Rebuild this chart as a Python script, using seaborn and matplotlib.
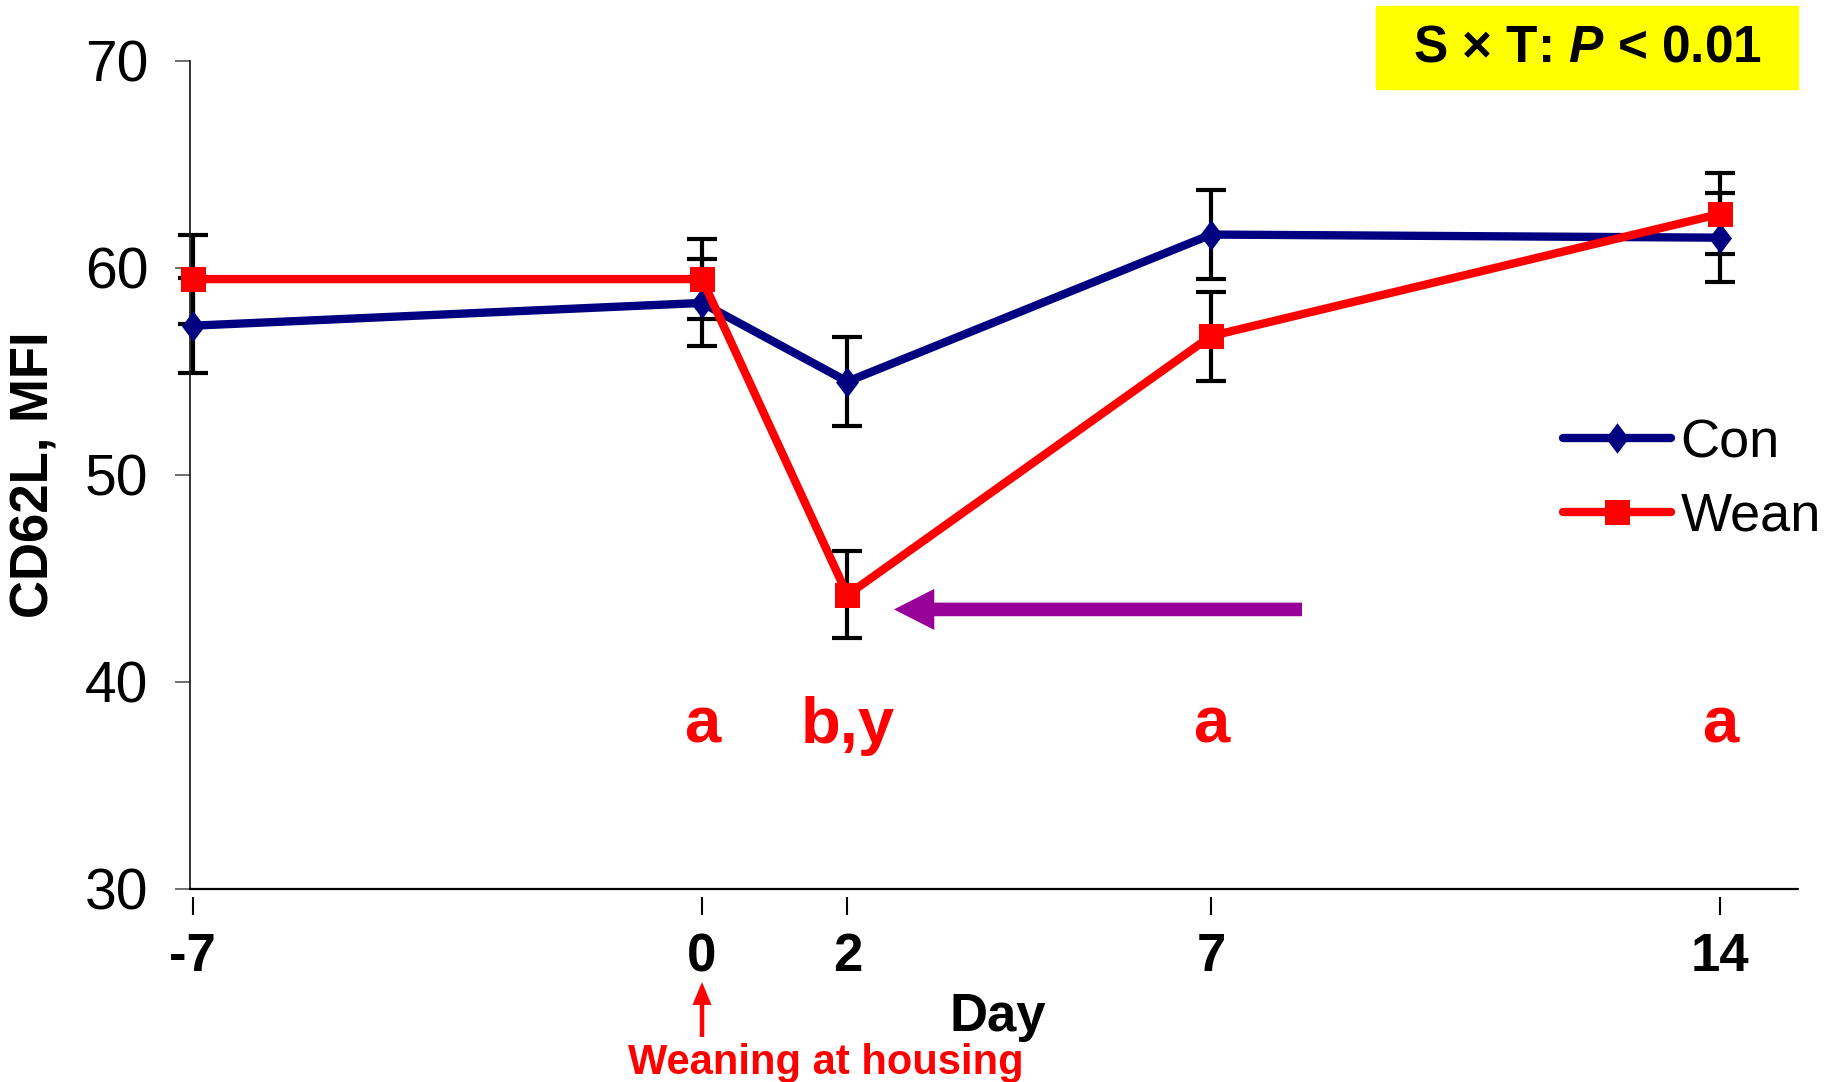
import matplotlib
matplotlib.use('Agg')
import matplotlib.pyplot as plt
import matplotlib.transforms as mtransforms
from matplotlib import font_manager as fm
from matplotlib.lines import Line2D
from matplotlib.patches import Rectangle
import seaborn as sns
import pandas as pd

# ---------------- data ----------------
days = [-7, 0, 2, 7, 14]
con_mean = [57.2, 58.3, 54.5, 61.6, 61.45]
con_se = [2.3, 2.1, 2.15, 2.15, 2.15]
wean_mean = [59.45, 59.45, 44.2, 56.7, 62.6]
wean_se = [2.15, 1.95, 2.1, 2.15, 1.95]
groups = ['Con', 'Wean']
sig_days = [0, 2, 7, 14]
sig_labels = ['a', 'b,y', 'a', 'a']
y_ticks = [30, 40, 50, 60, 70]
x_ticks = [-7, 0, 2, 7, 14]
stat_text = 'S \u00d7 T: $\\mathit{P}$ < 0.01'


def pick(names):
    for n in names:
        try:
            fm.findfont(fm.FontProperties(family=n), fallback_to_default=False)
            return n
        except Exception:
            pass
    return 'DejaVu Sans'


sns.set_style('ticks')
NARROW = pick(['Liberation Sans Narrow', 'Arial Narrow', 'Liberation Sans'])
WIDE = pick(['Liberation Sans', 'Arial', 'DejaVu Sans'])
plt.rcParams['font.family'] = [NARROW, 'DejaVu Sans']
plt.rcParams['text.color'] = 'black'
plt.rcParams['axes.labelcolor'] = 'black'
plt.rcParams['xtick.labelcolor'] = 'black'
plt.rcParams['ytick.labelcolor'] = 'black'
plt.rcParams['mathtext.fontset'] = 'custom'
plt.rcParams['mathtext.rm'] = NARROW + ':bold'
plt.rcParams['mathtext.it'] = NARROW + ':italic:bold'
plt.rcParams['mathtext.bf'] = NARROW + ':bold'

W, H = 1827, 1082
fig = plt.figure(figsize=(W / 100, H / 100), dpi=100)
ax = fig.add_axes([190 / W, 1 - 889 / H, (1798 - 190) / W, (889 - 60.6) / H])

CON_C = '#000080'
WEAN_C = '#FF0000'
DIAMOND = [(0, 1), (0.75, 0), (0, -1), (-0.75, 0), (0, 1)]

df = pd.DataFrame({
    'Day': days + days,
    'CD62L': con_mean + wean_mean,
    'Group': ['Con'] * len(days) + ['Wean'] * len(days),
})

# error bars (under the lines)
for mean, se in [(con_mean, con_se), (wean_mean, wean_se)]:
    eb = ax.errorbar(days, mean, yerr=se, fmt='none', ecolor='black',
                     elinewidth=3, capsize=11, capthick=3, zorder=1)
    for art in eb.lines[1]:
        art.set_clip_on(False)
    for art in eb.lines[2]:
        art.set_clip_on(False)

sns.lineplot(data=df[df.Group == 'Con'], x='Day', y='CD62L', color=CON_C,
             marker=DIAMOND, markersize=22, markeredgewidth=0, linewidth=6,
             sort=False, errorbar=None, legend=False, ax=ax, zorder=3, clip_on=False)
sns.lineplot(data=df[df.Group == 'Wean'], x='Day', y='CD62L', color=WEAN_C,
             marker='s', markersize=18, markeredgewidth=0, linewidth=6,
             sort=False, errorbar=None, legend=False, ax=ax, zorder=4, clip_on=False)

ax.set_xlim(-7.04, 15.07)
ax.set_ylim(30, 70)
ax.set_yticks(y_ticks)
ax.set_xticks(x_ticks)
ax.set_xticklabels([str(t) for t in x_ticks])
ax.set_xlabel('')
ax.set_ylabel('')

for sp in ['top', 'right']:
    ax.spines[sp].set_visible(False)
ax.spines['left'].set_linewidth(1.3)
ax.spines['left'].set_color('#222222')
ax.spines['bottom'].set_position(('outward', 6))
ax.spines['bottom'].set_visible(False)
ax.axhline(30, color='black', lw=1.6, clip_on=False, zorder=5)

ax.tick_params(axis='y', direction='out', length=11, width=1.2, color='#555555',
               pad=19, labelsize=41, labelcolor='black')
ax.tick_params(axis='x', direction='out', length=13, width=1.5, color='black',
               pad=12, labelsize=38, labelcolor='black')
for lab in ax.get_yticklabels():
    lab.set_family([NARROW, 'DejaVu Sans'])
for lab in ax.get_xticklabels():
    lab.set_family([NARROW, 'DejaVu Sans'])
    lab.set_fontweight('bold')

# significance letters
for d, s in zip(sig_days, sig_labels):
    ax.text(d, 37.05, s, ha='center', va='baseline', color=WEAN_C,
            fontsize=47, fontweight='bold')

# purple arrow
ax.annotate('', xy=(2.64, 43.5), xytext=(8.25, 43.5),
            arrowprops=dict(arrowstyle='simple,head_length=1.45,head_width=1.48,tail_width=0.49',
                            mutation_scale=20, color='#990099', lw=0,
                            shrinkA=0, shrinkB=0))

# legend
handles = [
    Line2D([], [], color=CON_C, lw=6, marker=DIAMOND, markersize=22, markeredgewidth=0),
    Line2D([], [], color=WEAN_C, lw=6, marker='s', markersize=18, markeredgewidth=0),
]
leg = fig.legend(handles, groups, loc='center left',
                 bbox_to_anchor=(1563 / W, 1 - 480 / H), bbox_transform=fig.transFigure,
                 frameon=False, fontsize=39, handlelength=2.0, handletextpad=0.17,
                 labelspacing=0.43, borderpad=0, borderaxespad=0)
for t in leg.get_texts():
    t.set_color('black')

# stats box
fig.patches.append(Rectangle((1376 / W, 1 - 89 / H), 422 / W, 83 / H,
                             transform=fig.transFigure, color='#FFFF00', zorder=0))
fig.text(1587 / W, 1 - 47.5 / H, stat_text, ha='center', va='center',
         fontsize=37, fontweight='bold', color='black')

# axis labels
fig.text(35 / W, 1 - 475 / H, 'CD62L, MFI', rotation=90, ha='center', va='center',
         fontsize=38, fontweight='bold', family=[WIDE, 'DejaVu Sans'], color='black')
fig.text(998 / W, 1 - 1017 / H, 'Day', ha='center', va='center',
         fontsize=38, fontweight='bold', color='black')

# weaning annotation
blend = mtransforms.blended_transform_factory(ax.transData, fig.transFigure)
ax.annotate('', xy=(0, 1 - 982 / H), xycoords=blend,
            xytext=(0, 1 - 1037 / H), textcoords=blend,
            arrowprops=dict(arrowstyle='simple,head_length=1.65,head_width=1.37,tail_width=0.32',
                            mutation_scale=10, color=WEAN_C, lw=0,
                            shrinkA=0, shrinkB=0),
            annotation_clip=False)
ax.text(1.7, 1 - 1074 / H, 'Weaning at housing', transform=blend, ha='center',
        va='baseline', color=WEAN_C, fontsize=30, fontweight='bold', clip_on=False)

fig.savefig('out.png', dpi=100)
